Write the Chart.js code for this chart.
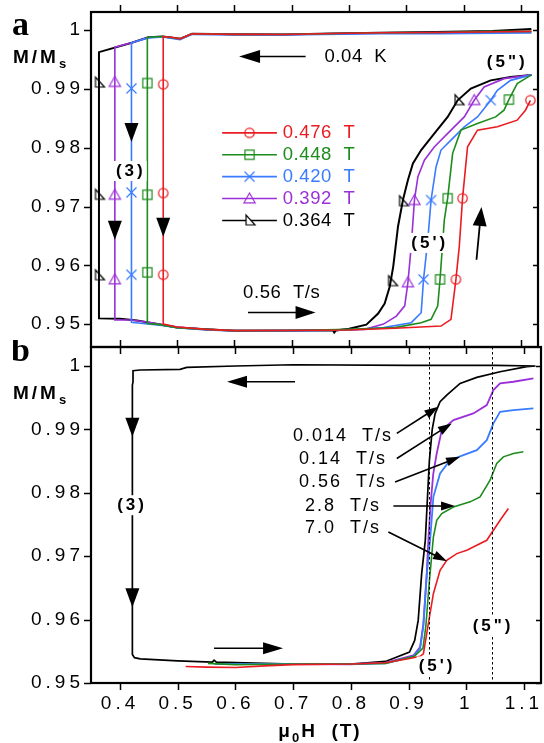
<!DOCTYPE html>
<html>
<head>
<meta charset="utf-8">
<script src="https://cdn.jsdelivr.net/npm/chart.js@4/dist/chart.umd.min.js"></script>
<style>
  html, body { margin: 0; padding: 0; background: #fff; width: 544px; height: 743px; overflow: hidden; }
  .panel { position: absolute; left: 0; width: 544px; }
  #wa { top: 0; height: 360px; }
  #wb { top: 340px; height: 403px; }
</style>
</head>
<body>
<div class="panel" id="wa"><canvas id="ca"></canvas></div>
<div class="panel" id="wb"><canvas id="cb"></canvas></div>
<script>
// ---------- tick values ----------
const xTicks = [0.4, 0.5, 0.6, 0.7, 0.8, 0.9, 1.0, 1.1];
const xTickLabels = ['0.4', '0.5', '0.6', '0.7', '0.8', '0.9', '1', '1.1'];
const yTicks = [0.95, 0.96, 0.97, 0.98, 0.99, 1.0];
const yTickLabels = ['0.95', '0.96', '0.97', '0.98', '0.99', '1'];

// ---------- panel a: loops at 0.56 T/s, 0.04 K, reversal fields ----------
const fieldLabels = ['0.476', '0.448', '0.420', '0.392', '0.364'];

const loop476 = [[1.118,0.9998],[1.06,0.99975],[0.96,0.9996],[0.854,0.99956],[0.75,0.9994],[0.686,0.99927],[0.60,0.9993],[0.526,0.9994],[0.505,0.99854],[0.49,0.9988],[0.4757,0.9989],
  [0.4757,0.9500],[0.50,0.9495],[0.55,0.9491],[0.60,0.94888],[0.70,0.9489],[0.80,0.9490],[0.88,0.9493],[0.9603,0.94966],[0.9777,0.9508],[0.9863,0.95758],[0.9922,0.96322],[0.9979,0.97142],[1.0066,0.98017],[1.0239,0.9830],[1.0586,0.98356],[1.0932,0.9847],[1.1076,0.98639],[1.1163,0.98808]];
const loop448 = [[1.118,0.9998],[1.06,0.9998],[0.96,0.9996],[0.854,0.99956],[0.75,0.9994],[0.686,0.99927],[0.60,0.9993],[0.526,0.9994],[0.505,0.99854],[0.475,0.99893],[0.448,0.9988],
  [0.448,0.9501],[0.47,0.9499],[0.50,0.9494],[0.55,0.9491],[0.60,0.94888],[0.70,0.9489],[0.80,0.9491],[0.88,0.9494],[0.9257,0.95024],[0.943,0.9508],[0.9546,0.9531],[0.9586,0.95758],[0.9661,0.96775],[0.9719,0.97142],[0.9806,0.97905],[0.995,0.9830],[1.0239,0.98413],[1.0556,0.98525],[1.0702,0.98639],[1.0787,0.9882],[1.0932,0.99091],[1.118,0.9924]];
const loop420 = [[1.118,0.99955],[1.06,0.9995],[0.96,0.9994],[0.854,0.9994],[0.75,0.9993],[0.686,0.9992],[0.60,0.9992],[0.526,0.9993],[0.505,0.9984],[0.475,0.99885],[0.45,0.9987],[0.4203,0.99786],
  [0.4203,0.9503],[0.44,0.9501],[0.47,0.9498],[0.50,0.9494],[0.55,0.9490],[0.60,0.94885],[0.70,0.94885],[0.80,0.9490],[0.86,0.9494],[0.9083,0.95024],[0.9257,0.95193],[0.9298,0.95758],[0.9373,0.96436],[0.943,0.97114],[0.9517,0.97678],[0.9603,0.97961],[0.9777,0.9813],[1.0009,0.98356],[1.0239,0.98525],[1.047,0.98808],[1.0586,0.98978],[1.0817,0.99147],[1.118,0.9924]];
const loop392 = [[1.118,0.9997],[1.06,0.9997],[0.96,0.9996],[0.854,0.9995],[0.75,0.9994],[0.686,0.99925],[0.60,0.9993],[0.526,0.9994],[0.505,0.9985],[0.475,0.9989],[0.45,0.99881],[0.4208,0.99786],[0.3913,0.99712],
  [0.3913,0.9507],[0.42,0.9507],[0.45,0.9503],[0.50,0.9495],[0.55,0.9491],[0.60,0.9489],[0.70,0.9489],[0.8275,0.9491],[0.86,0.9500],[0.8824,0.95136],[0.897,0.9531],[0.9026,0.9571],[0.9083,0.96322],[0.914,0.97114],[0.920,0.97508],[0.9315,0.97792],[0.9489,0.98017],[0.9777,0.9830],[1.0009,0.98525],[1.0182,0.98808],[1.0355,0.99034],[1.0702,0.99176],[1.118,0.9924]];
const loop364 = [[1.118,1.0002],[1.05,0.99985],[0.95,0.9997],[0.854,0.99956],[0.75,0.9994],[0.686,0.99927],[0.60,0.9993],[0.526,0.9994],[0.505,0.99854],[0.475,0.99893],[0.45,0.99881],[0.4208,0.99786],[0.3636,0.99627],
  [0.3636,0.95097],[0.40,0.9509],[0.43,0.9506],[0.46,0.9501],[0.50,0.9494],[0.55,0.9491],[0.60,0.94888],[0.70,0.9489],[0.772,0.9489],[0.774,0.94855],[0.777,0.9489],[0.80,0.9492],[0.83,0.9499],[0.8506,0.9518],[0.862,0.9535],[0.871,0.95644],[0.877,0.95983],[0.8853,0.96661],[0.894,0.97114],[0.9026,0.97453],[0.9113,0.97734],[0.9257,0.97961],[0.9488,0.98244],[0.9719,0.98525],[0.9893,0.98808],[1.0123,0.99007],[1.047,0.99147],[1.0817,0.99203],[1.118,0.9924]];

// symbol positions along each loop
const marks476 = [[0.4757,0.9908],[0.4757,0.9723],[0.4757,0.9584],[0.9863,0.9576],[0.9979,0.9714],[1.1163,0.9881]];
const marks448 = [[0.448,0.9910],[0.448,0.9720],[0.448,0.9588],[0.9586,0.9576],[0.9719,0.9714],[1.0787,0.9882]];
const marks420 = [[0.4203,0.9901],[0.4203,0.9724],[0.4203,0.9584],[0.9298,0.9576],[0.9430,0.9711],[1.047,0.9881]];
const marks392 = [[0.3913,0.9912],[0.3913,0.9720],[0.3913,0.9576],[0.9026,0.9571],[0.914,0.9711],[1.0182,0.9881]];
const marks364 = [[0.3636,0.9911],[0.3636,0.9720],[0.3636,0.9583],[0.875,0.9573],[0.894,0.9709],[0.991,0.9881]];

// ---------- panel b: sweep-rate dependence ----------
const rateLabels = ['0.014', '0.14', '0.56', '2.8', '7.0'];

const rate0014 = [[1.12,1.0],[1.05,1.0001],[0.90,1.0001],[0.70,1.0002],[0.60,1.0],[0.5156,0.99979],[0.504,0.99947],[0.4347,0.99937],[0.4225,0.99926],[0.4225,0.9975],[0.4214,0.9970],
  [0.4214,0.9545],[0.425,0.9540],[0.435,0.95382],[0.50,0.9535],[0.56,0.95329],[0.563,0.9536],[0.567,0.9533],[0.70,0.9530],[0.80,0.9530],[0.86,0.9534],[0.9016,0.95487],[0.9106,0.95671],[0.9167,0.95987],[0.9227,0.96725],[0.929,0.9725],[0.936,0.9850],[0.941,0.9900],[0.946,0.9925],[0.9546,0.99436],[0.9662,0.99542],[0.9893,0.99726],[1.0182,0.99821],[1.0586,0.9991],[1.1048,0.99989],[1.12,1.0]];
const rate014 = [[0.5637,0.95303],[0.60,0.9530],[0.70,0.9530],[0.80,0.95295],[0.86,0.9532],[0.9083,0.95434],[0.92,0.95566],[0.9257,0.95935],[0.9315,0.96725],[0.9343,0.97251],[0.938,0.9780],[0.9428,0.9830],[0.9488,0.98621],[0.9575,0.98989],[0.9777,0.99147],[1.0123,0.99252],[1.0355,0.99384],[1.047,0.99621],[1.0586,0.99726],[1.0817,0.99752],[1.1163,0.99805]];
const rate056 = [[0.565,0.9530],[0.60,0.9530],[0.70,0.9530],[0.80,0.9530],[0.86,0.9531],[0.9083,0.9542],[0.92,0.9555],[0.9257,0.9590],[0.9315,0.9670],[0.9373,0.97251],[0.943,0.97936],[0.9546,0.98305],[0.9719,0.98515],[0.995,0.98594],[1.0182,0.98673],[1.0355,0.98831],[1.047,0.99095],[1.0586,0.99278],[1.0817,0.99305],[1.1163,0.99332]];
const rate28 = [[0.5525,0.9531],[0.60,0.9529],[0.70,0.9530],[0.80,0.9530],[0.86,0.9531],[0.91,0.9542],[0.925,0.9555],[0.930,0.9590],[0.936,0.9660],[0.943,0.97303],[0.9488,0.97567],[0.9575,0.97673],[0.9777,0.97777],[1.0066,0.97857],[1.0239,0.97936],[1.0412,0.98199],[1.0528,0.98463],[1.0643,0.98567],[1.0817,0.98621],[1.099,0.98647]];
const rate70 = [[0.5137,0.9526],[0.55,0.9525],[0.60,0.95245],[0.65,0.9527],[0.70,0.9529],[0.80,0.9530],[0.86,0.9532],[0.8997,0.95382],[0.92,0.9542],[0.9257,0.95461],[0.9343,0.95935],[0.943,0.96409],[0.9546,0.96777],[0.9662,0.96935],[0.9835,0.97041],[1.0009,0.97093],[1.0182,0.97172],[1.0355,0.97251],[1.0586,0.97567],[1.073,0.97752]];

// ---------- styling ----------
const RED = '#ea1c22', GREEN = '#1c8c1c', BLUE = '#3a7bff', PURPLE = '#9b2fd8', BLACK = '#000000';
const SANS = '"Liberation Sans", Arial, sans-serif';
const SERIF = '"Liberation Serif", "Times New Roman", serif';

function symbol(kind, color) {
  const c = document.createElement('canvas');
  c.width = 15; c.height = 15;
  const g = c.getContext('2d');
  const m = 7.5;
  g.strokeStyle = color; g.lineWidth = 1.2;
  g.beginPath();
  if (kind === 'circle') g.arc(m, m, 4.7, 0, Math.PI * 2);
  else if (kind === 'square') g.rect(m - 4.6, m - 4.6, 9.2, 9.2);
  else if (kind === 'cross') { g.moveTo(m - 5, m - 5); g.lineTo(m + 5, m + 5); g.moveTo(m + 5, m - 5); g.lineTo(m - 5, m + 5); }
  else if (kind === 'triangle') { g.moveTo(m, m - 5.5); g.lineTo(m + 5.6, m + 4.3); g.lineTo(m - 5.6, m + 4.3); g.closePath(); }
  else if (kind === 'corner') { g.moveTo(m - 3.5, m - 5.5); g.lineTo(m - 3.5, m + 4.5); g.lineTo(m + 5.5, m + 4.5); g.closePath(); g.fillStyle = '#fff'; g.fill(); }
  g.stroke();
  return c;
}

const pts = arr => arr.map(([x, y]) => ({ x, y }));
const lineSet = (arr, color, w) => ({ data: pts(arr), showLine: true, borderColor: color, borderWidth: w, pointRadius: 0, tension: 0, fill: false });
const markSet = (arr, img) => ({ data: pts(arr), showLine: false, pointStyle: img, pointRadius: 5 });

const symA = [symbol('circle', RED), symbol('square', GREEN), symbol('cross', BLUE), symbol('triangle', PURPLE), symbol('corner', BLACK)];
const colA = [RED, GREEN, BLUE, PURPLE, BLACK];

// ---------- drawing helpers ----------
function head(ctx, x, y, ang, hl, hw) {
  const c = Math.cos(ang), s = Math.sin(ang);
  ctx.beginPath();
  ctx.moveTo(x, y);
  ctx.lineTo(x - hl * c - hw * s, y - hl * s + hw * c);
  ctx.lineTo(x - hl * c + hw * s, y - hl * s - hw * c);
  ctx.closePath();
  ctx.fill();
}
function arrow(ctx, x1, y1, x2, y2, hl, hw, lw) {
  const ang = Math.atan2(y2 - y1, x2 - x1);
  ctx.save();
  ctx.strokeStyle = '#000'; ctx.fillStyle = '#000'; ctx.lineWidth = lw;
  ctx.beginPath();
  ctx.moveTo(x1, y1);
  ctx.lineTo(x2 - (hl - 1) * Math.cos(ang), y2 - (hl - 1) * Math.sin(ang));
  ctx.stroke();
  head(ctx, x2, y2, ang, hl, hw);
  ctx.restore();
}
function text(ctx, str, x, y, o) {
  ctx.save();
  ctx.font = o.font; ctx.fillStyle = o.color || '#000';
  ctx.letterSpacing = (o.sp || 0) + 'px';
  ctx.textAlign = o.align || 'left'; ctx.textBaseline = 'middle';
  if (o.bg) {
    const w = ctx.measureText(str).width;
    const x0 = o.align === 'center' ? x - w / 2 : x;
    ctx.fillStyle = '#fff';
    ctx.fillRect(x0 - 2, y - 10, w + 3, 20);
    ctx.fillStyle = o.color || '#000';
  }
  ctx.fillText(str, x, y);
  ctx.restore();
}
// a run of text pieces with individual fonts and vertical offsets
function runText(ctx, parts, x, y, sp) {
  ctx.save();
  ctx.textBaseline = 'alphabetic'; ctx.textAlign = 'left'; ctx.fillStyle = '#000';
  ctx.letterSpacing = sp + 'px';
  let cx = x;
  parts.forEach(p => {
    ctx.font = p.font;
    ctx.fillText(p.t, cx, y + (p.dy || 0));
    cx += ctx.measureText(p.t).width + (p.gap || 0);
  });
  ctx.restore();
}
function runWidth(ctx, parts, sp) {
  ctx.save(); ctx.letterSpacing = sp + 'px';
  let w = 0;
  parts.forEach(p => { ctx.font = p.font; w += ctx.measureText(p.t).width + (p.gap || 0); });
  ctx.restore();
  return w;
}
function frameAndTicks(chart, t) {
  const { ctx, chartArea: a, scales: { x, y } } = chart;
  ctx.save();
  ctx.strokeStyle = '#000';
  ctx.lineWidth = 1.5;
  ctx.beginPath();
  xTicks.forEach(v => {
    const px = Math.round(x.getPixelForValue(v)) + 0.5;
    ctx.moveTo(px, a.top); ctx.lineTo(px, a.top + t.top);
    ctx.moveTo(px, a.bottom); ctx.lineTo(px, a.bottom + t.bottom);
  });
  yTicks.forEach(v => {
    const py = Math.round(y.getPixelForValue(v)) + 0.5;
    ctx.moveTo(a.left, py); ctx.lineTo(a.left + t.left, py);
    ctx.moveTo(a.right, py); ctx.lineTo(a.right + t.right, py);
  });
  ctx.stroke();
  ctx.lineWidth = 2.2;
  ctx.strokeRect(a.left, a.top, a.right - a.left, a.bottom - a.top);
  ctx.restore();
}

const decor = {
  id: 'decor',
  beforeDraw(chart) { chart.ctx.letterSpacing = '4px'; },
  afterDatasetsDraw(chart, args, opts) { if (opts.under) opts.under(chart); },
  afterDraw(chart, args, opts) { chart.ctx.letterSpacing = '0px'; if (opts.draw) opts.draw(chart); }
};

function yScale(min, max) {
  return {
    type: 'linear', min, max,
    grid: { display: false, drawTicks: false }, border: { display: false },
    afterBuildTicks: s => { s.ticks = yTicks.map(v => ({ value: v })); },
    afterFit: s => { s.width = 91; s.paddingTop = 0; s.paddingBottom = 0; },
    ticks: { padding: 7, autoSkip: false, color: '#000', font: { family: SANS, size: 19 },
      callback: v => yTickLabels[yTicks.findIndex(t => Math.abs(t - v) < 1e-6)] }
  };
}

const common = {
  responsive: true, maintainAspectRatio: false, animation: false, devicePixelRatio: 1,
  events: [],
  plugins: { legend: { display: false }, tooltip: { enabled: false } }
};

// ---------- panel a ----------
const P = (c, x, y) => [c.scales.x.getPixelForValue(x), c.scales.y.getPixelForValue(y)];

new Chart(document.getElementById('ca'), {
  type: 'scatter',
  data: {
    datasets: [
      lineSet(loop476, RED, 1.6), lineSet(loop448, GREEN, 1.6), lineSet(loop420, BLUE, 1.6),
      lineSet(loop392, PURPLE, 1.6), lineSet(loop364, BLACK, 2),
      markSet(marks476, symA[0]), markSet(marks448, symA[1]), markSet(marks420, symA[2]),
      markSet(marks392, symA[3]), markSet(marks364, symA[4])
    ]
  },
  options: {
    ...common,
    layout: { padding: { left: 0, right: 3, top: 12, bottom: 13 } },
    scales: {
      x: { type: 'linear', min: 0.3497, max: 1.1295, display: false },
      y: yScale(0.9461, 1.0031)
    },
    plugins: {
      ...common.plugins,
      decor: {
        draw(c) {
          const ctx = c.ctx;
          frameAndTicks(c, { top: -7, bottom: -7, left: -7, right: -5 });
          // panel letter and axis title
          ctx.save(); ctx.font = 'bold 34px ' + SERIF; ctx.fillStyle = '#000'; ctx.textBaseline = 'alphabetic';
          ctx.fillText('a', 12, 35); ctx.restore();
          runText(ctx, [{ t: 'M/M', font: 'bold 19px ' + SANS }, { t: 's', font: 'bold 13px ' + SANS, dy: 5 }], 13, 63, 3);
          // legend
          const [lx0] = P(c, 0.5785, 0), [lx1] = P(c, 0.674, 0), [tx] = P(c, 0.684, 0);
          const [, ly0] = P(c, 0, 0.98254);
          fieldLabels.forEach((lab, i) => {
            const ly = ly0 + i * 21.9;
            ctx.save(); ctx.strokeStyle = colA[i]; ctx.lineWidth = 1.6;
            ctx.beginPath(); ctx.moveTo(lx0, ly); ctx.lineTo(lx1, ly); ctx.stroke();
            ctx.drawImage(symA[i], (lx0 + lx1) / 2 - 7.5, ly - 7.5);
            ctx.restore();
            text(ctx, lab + '  T', tx, ly, { font: '18.5px ' + SANS, color: colA[i], sp: 0.6 });
          });
          // sweep arrows
          let a = P(c, 0.7241, 0.99554), b = P(c, 0.6080, 0.99554);
          arrow(ctx, a[0], a[1], b[0], b[1], 21, 6.5, 1.6);
          a = P(c, 0.6236, 0.95197); b = P(c, 0.7414, 0.95197);
          arrow(ctx, a[0], a[1], b[0], b[1], 20, 6.5, 1.6);
          a = P(c, 1.0222, 0.96095); b = P(c, 1.0309, 0.96992);
          arrow(ctx, a[0], a[1], b[0], b[1], 19, 7, 1.8);
          [[0.4203, 0.98097], [0.3913, 0.96436], [0.4757, 0.96486]].forEach(([hx, hy]) => {
            const p = P(c, hx, hy); ctx.fillStyle = '#000'; head(ctx, p[0], p[1], Math.PI / 2, 19, 7);
          });
          // labels
          let p = P(c, 0.757, 0.99554); text(ctx, '0.04  K', p[0], p[1], { font: '18.5px ' + SANS, sp: 0.6 });
          p = P(c, 0.6149, 0.95537); text(ctx, '0.56  T/s', p[0], p[1], { font: '18.5px ' + SANS, sp: 0.6 });
          p = P(c, 1.0759, 0.99453); text(ctx, '(5")', p[0], p[1], { font: 'bold 17px ' + SANS, sp: 3, align: 'center' });
          p = P(c, 0.4191, 0.97605); text(ctx, '(3)', p[0], p[1], { font: 'bold 17px ' + SANS, sp: 3, align: 'center', bg: true });
          p = P(c, 0.9407, 0.96381); text(ctx, "(5')", p[0], p[1], { font: 'bold 17px ' + SANS, sp: 3, align: 'center', bg: true });
        }
      }
    }
  },
  plugins: [decor]
});

// ---------- panel b ----------
const colB = [BLACK, PURPLE, BLUE, GREEN, RED];
new Chart(document.getElementById('cb'), {
  type: 'scatter',
  data: {
    datasets: [
      lineSet(rate70, RED, 1.6), lineSet(rate28, GREEN, 1.6), lineSet(rate056, BLUE, 1.8),
      lineSet(rate014, PURPLE, 1.8), lineSet(rate0014, BLACK, 1.7)
    ]
  },
  options: {
    ...common,
    layout: { padding: { left: 0, right: 3, top: 7, bottom: 0 } },
    scales: {
      x: {
        type: 'linear', min: 0.3497, max: 1.1295, position: 'bottom',
        grid: { display: false, drawTicks: false }, border: { display: false },
        afterBuildTicks: s => { s.ticks = xTicks.map(v => ({ value: v })); },
        afterFit: s => { s.height = 60; s.paddingLeft = 0; s.paddingRight = 0; },
        ticks: { padding: 9, autoSkip: false, maxRotation: 0, color: '#000', font: { family: SANS, size: 19 },
          callback: v => xTickLabels[xTicks.findIndex(t => Math.abs(t - v) < 1e-6)] }
      },
      y: yScale(0.95, 1.0030)
    },
    plugins: {
      ...common.plugins,
      decor: {
        draw(c) {
          const ctx = c.ctx, a0 = c.chartArea;
          // field markers (5') and (5")
          ctx.save(); ctx.strokeStyle = '#000'; ctx.lineWidth = 1; ctx.setLineDash([2.5, 2.5]);
          [0.936, 1.045].forEach(v => {
            const px = Math.round(c.scales.x.getPixelForValue(v)) + 0.5;
            ctx.beginPath(); ctx.moveTo(px, a0.top); ctx.lineTo(px, a0.bottom); ctx.stroke();
          });
          ctx.restore();
          frameAndTicks(c, { top: 7, bottom: 7, left: -7, right: -5 });
          ctx.save(); ctx.font = 'bold 34px ' + SERIF; ctx.fillStyle = '#000'; ctx.textBaseline = 'alphabetic';
          ctx.fillText('b', 11, 21); ctx.restore();
          runText(ctx, [{ t: 'M/M', font: 'bold 19px ' + SANS }, { t: 's', font: 'bold 13px ' + SANS, dy: 5 }], 13, 59, 3);
          // x-axis title
          const parts = [{ t: 'μ', font: 'bold 19px ' + SANS }, { t: '0', font: 'bold 13px ' + SANS, dy: 5 },
                         { t: 'H  (T)', font: 'bold 19px ' + SANS }];
          const w = runWidth(ctx, parts, 2);
          runText(ctx, parts, (a0.left + a0.right) / 2 + 4 - w / 2, 397, 2);
          // sweep arrows and reversal marks
          let a = P(c, 0.7033, 0.99752), b = P(c, 0.5854, 0.99752);
          arrow(ctx, a[0], a[1], b[0], b[1], 20, 6, 1.5);
          a = P(c, 0.5629, 0.9555); b = P(c, 0.6825, 0.9555);
          arrow(ctx, a[0], a[1], b[0], b[1], 20, 6, 1.5);
          [[0.4214, 0.98883], [0.4214, 0.96193]].forEach(([hx, hy]) => {
            const p = P(c, hx, hy); ctx.fillStyle = '#000'; head(ctx, p[0], p[1], Math.PI / 2, 19, 7);
          });
          // rate labels with pointers
          const labY = [0.98899, 0.98531, 0.98172, 0.97793, 0.97452];
          const tails = [[0.8796, 0.98937], [0.8796, 0.98542], [0.8766, 0.98172], [0.8737, 0.97793], [0.865, 0.97382]];
          const tips = [[0.9516, 0.99357], [0.9749, 0.99095], [0.9893, 0.98567], [0.9806, 0.97793], [0.9667, 0.96919]];
          rateLabels.forEach((r, i) => {
            const p = P(c, 0.7865, labY[i]);
            text(ctx, r + '  T/s', p[0], p[1], { font: '18px ' + SANS, sp: 2, align: 'center' });
            const t0 = P(c, tails[i][0], tails[i][1]), t1 = P(c, tips[i][0], tips[i][1]);
            arrow(ctx, t0[0], t0[1], t1[0], t1[1], 14, 4.5, 1.6);
          });
          let p = P(c, 0.4208, 0.97804); text(ctx, '(3)', p[0], p[1], { font: 'bold 17px ' + SANS, sp: 3, align: 'center', bg: true });
          p = P(c, 0.9494, 0.95261); text(ctx, "(5')", p[0], p[1], { font: 'bold 17px ' + SANS, sp: 3, align: 'center', bg: true });
          p = P(c, 1.0464, 0.95893); text(ctx, '(5")', p[0], p[1], { font: 'bold 17px ' + SANS, sp: 3, align: 'center', bg: true });
        }
      }
    }
  },
  plugins: [decor]
});
</script>
</body>
</html>
